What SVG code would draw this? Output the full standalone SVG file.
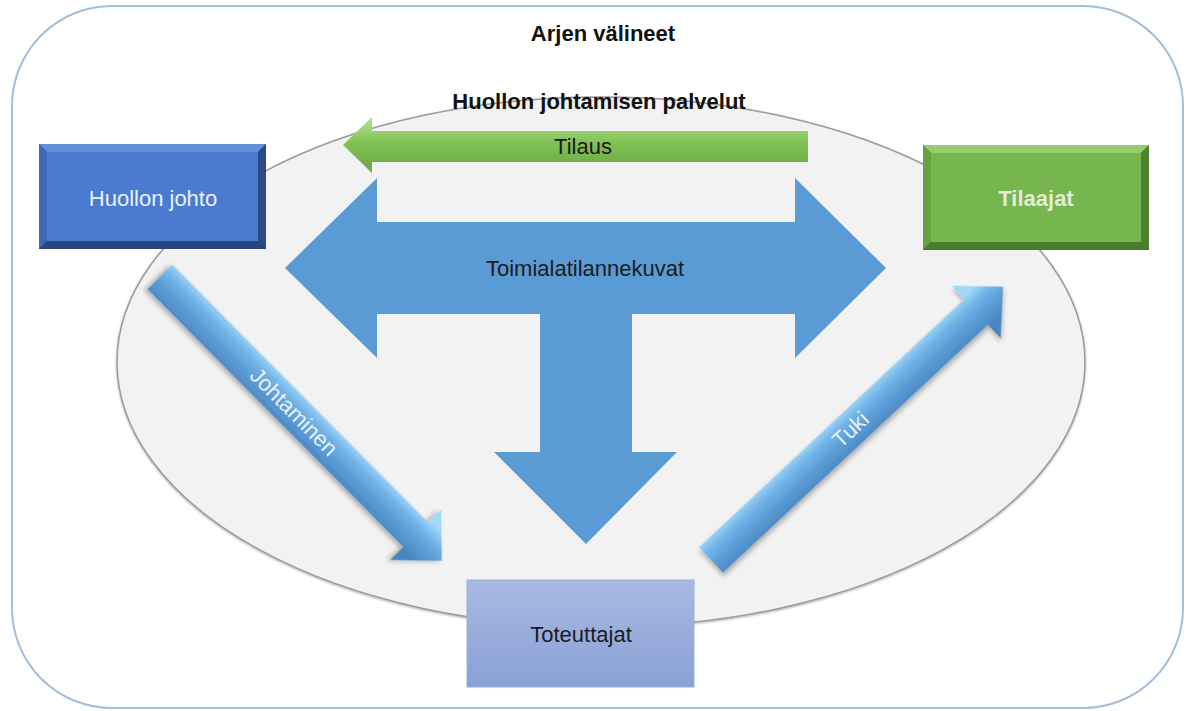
<svg xmlns="http://www.w3.org/2000/svg" width="1190" height="711" viewBox="0 0 1190 711">
<style>
  .lbl{font-family:"Liberation Sans",Arial,sans-serif;font-size:22px;text-anchor:middle;dominant-baseline:central}
  .title{font-family:"Liberation Sans",Arial,sans-serif;font-size:22px;font-weight:bold;text-anchor:middle;dominant-baseline:central;fill:#111}
  .dark{fill:#1b1b1b}
  .light{fill:#eaf1fa}
</style>
<defs>
  <linearGradient id="gTilaus" x1="0" y1="0" x2="0" y2="1">
    <stop offset="0" stop-color="#b4e38f"/>
    <stop offset="0.45" stop-color="#82c257"/>
    <stop offset="1" stop-color="#68a540"/>
  </linearGradient>
  <linearGradient id="gDiag" gradientUnits="userSpaceOnUse" x1="0" y1="-20" x2="0" y2="20">
    <stop offset="0" stop-color="#a3d8f7"/>
    <stop offset="0.3" stop-color="#72b4e8"/>
    <stop offset="0.65" stop-color="#5b9bd5"/>
    <stop offset="1" stop-color="#4a86c1"/>
  </linearGradient>
  <linearGradient id="gTot" x1="0" y1="0" x2="0" y2="1">
    <stop offset="0" stop-color="#a9b9e2"/>
    <stop offset="1" stop-color="#89a1d6"/>
  </linearGradient>
  <filter id="sh" x="-10%" y="-10%" width="130%" height="130%">
    <feDropShadow dx="-2" dy="3" stdDeviation="2.5" flood-color="#000" flood-opacity="0.3"/>
  </filter>
  <filter id="esh" x="-5%" y="-5%" width="110%" height="110%">
    <feDropShadow dx="0" dy="1" stdDeviation="1" flood-color="#000" flood-opacity="0.35"/>
  </filter>
</defs>

<rect width="1190" height="711" fill="#ffffff"/>

<g id="arjen-valineet">
  <rect x="12" y="6" width="1171" height="702" rx="100" ry="100" fill="#ffffff" stroke="#a4bdd9" stroke-width="2"/>
  <text class="title" x="603" y="33">Arjen välineet</text>
</g>

<g id="huollon-johtamisen-palvelut">
  <ellipse cx="601" cy="362" rx="484" ry="265" fill="#f2f2f2" stroke="#9a9a9a" stroke-width="1.5" filter="url(#esh)"/>
  <text class="title" x="599" y="101">Huollon johtamisen palvelut</text>
</g>

<g id="connectors">
  <g id="tilaus">
    <polygon points="343,145 372,117 372,131 808,131 808,162 372,162 372,173" fill="url(#gTilaus)"/>
    <text class="lbl dark" x="583" y="146">Tilaus</text>
  </g>
  <g id="toimialatilannekuvat">
    <polygon points="285,268 377,178 377,222 795,222 795,178 886,268 795,358 795,314 632,314 632,452 677,452 586,544 494,452 540,452 540,314 377,314 377,358" fill="#5b9bd5"/>
    <text class="lbl dark" x="585" y="268">Toimialatilannekuvat</text>
  </g>
  <g id="johtaminen" transform="translate(160,277) rotate(45.2)">
    <polygon points="0,-17.5 363,-17.5 363,-36 400,0 363,36 363,17.5 0,17.5" fill="url(#gDiag)" filter="url(#sh)"/>
    <text class="lbl light" x="190" y="0">Johtaminen</text>
  </g>
  <g id="tuki" transform="translate(711,560) rotate(-43.1)">
    <polygon points="0,-17.5 363,-17.5 363,-36 400,0 363,36 363,17.5 0,17.5" fill="url(#gDiag)" filter="url(#sh)"/>
    <text class="lbl light" x="191" y="0">Tuki</text>
  </g>
</g>

<g id="huollon-johto">
  <rect x="39" y="144" width="227" height="105" fill="#2d4f8f"/>
  <polygon points="39,144 266,144 258,152 47,152" fill="#6290dc"/>
  <polygon points="39,144 47,152 47,241 39,249" fill="#3c68b6"/>
  <polygon points="266,144 266,249 258,241 258,152" fill="#2a4b88"/>
  <polygon points="39,249 47,241 258,241 266,249" fill="#284680"/>
  <rect x="47" y="152" width="211" height="89" fill="#4a7bd0"/>
  <text class="lbl light" x="153" y="198">Huollon johto</text>
</g>

<g id="tilaajat">
  <rect x="923" y="145" width="226" height="105" fill="#447528"/>
  <polygon points="923,145 1149,145 1141,153 931,153" fill="#93cd6c"/>
  <polygon points="923,145 931,153 931,242 923,250" fill="#66a33f"/>
  <polygon points="1149,145 1149,250 1141,242 1141,153" fill="#4b802d"/>
  <polygon points="923,250 931,242 1141,242 1149,250" fill="#497c2b"/>
  <rect x="931" y="153" width="210" height="89" fill="#77b54f"/>
  <text class="lbl" x="1036" y="198" fill="#e2ecd9" font-weight="bold">Tilaajat</text>
</g>

<g id="toteuttajat">
  <rect x="467" y="580" width="227" height="107" fill="url(#gTot)" stroke="#9aaedc" stroke-width="1"/>
  <text class="lbl dark" x="581" y="634">Toteuttajat</text>
</g>
</svg>
